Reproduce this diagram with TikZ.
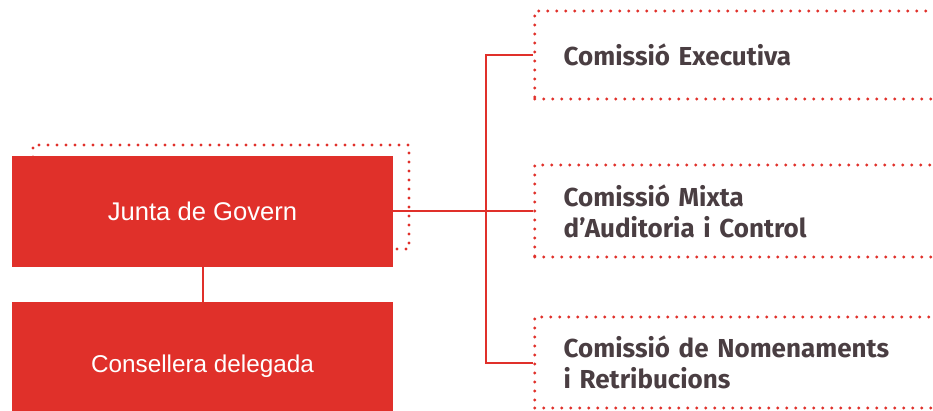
\documentclass[tikz,border=0pt]{standalone}
\usepackage{fontspec}
\setmainfont{Liberation Sans}
\newfontfamily\rfont{Fira Sans}
\definecolor{cred}{HTML}{E0302A}
\definecolor{ctext}{HTML}{4A3E42}
\begin{document}
\begin{tikzpicture}[x=1pt,y=-1pt,
  redbox/.style={rectangle, fill=cred, draw=none, inner sep=0pt, text=white},
  dotline/.style={draw=cred, line width=3.4pt, line cap=round, dash pattern=on 0pt off 9pt},
  combox/.style={rectangle, dotline, inner xsep=29pt, inner ysep=0pt,
    minimum width=417pt, text width=359pt, align=left, text=ctext,
    font=\rfont\bfseries\fontsize{26}{31}\selectfont, anchor=west},
  conn/.style={draw=cred, line width=2pt}]
\useasboundingbox (0,0) rectangle (933,411);
\begin{scope}
\clip (0,0) rectangle (933,411);
% dotted frame behind Junta
\draw[dotline] (33,157) -- (33,145) -- (409,145) -- (409,249) -- (393,249);
\node[redbox, minimum width=381pt, minimum height=111pt, font=\fontsize{25.6}{30}\selectfont] (junta) at (202.5,211.5) {Junta de Govern};
\node[redbox, minimum width=381pt, minimum height=128pt, font=\fontsize{24.3}{28}\selectfont] (cons) at (202.5,366) {Consellera delegada};
\node[combox, minimum height=88pt] (exec) at (533,55) {Comissió Executiva};
\node[combox, minimum height=92pt] (mixta) at (533,211) {Comissió Mixta\\d’Auditoria i Control};
\node[combox, minimum height=91pt] (nomen) at (533,362.5) {Comissió de Nomenaments\\i Retribucions};
\coordinate (tr) at (486,209);
\draw[conn] (junta.south) -- (cons.north);
\draw[conn] (junta.east |- mixta.west) -- (mixta.west);
\draw[conn] (exec.west) -| (tr) |- (nomen.west);
\end{scope}
\end{tikzpicture}
\end{document}
